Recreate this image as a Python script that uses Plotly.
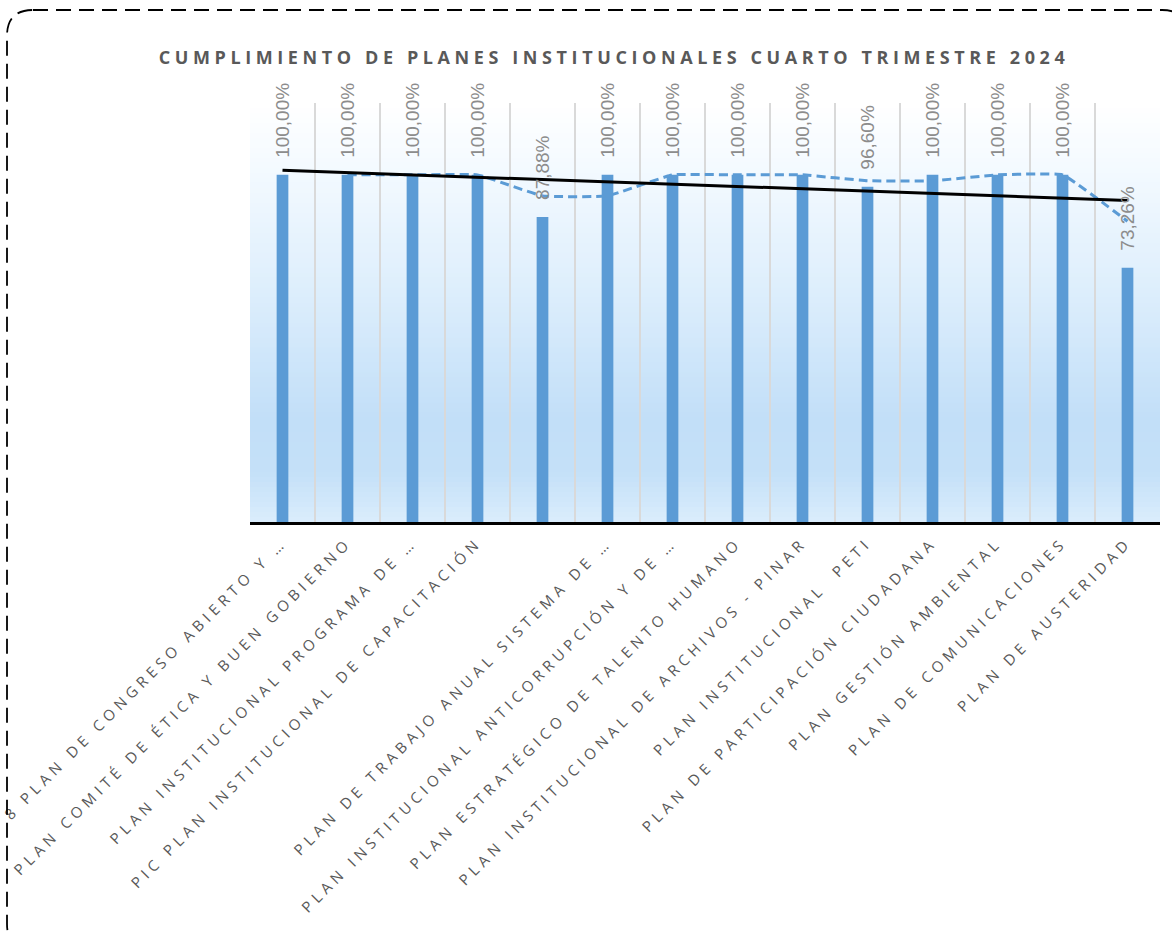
import numpy as np
import plotly.graph_objects as go

# ---------------- data ----------------
categories = [
    "8 PLAN DE CONGRESO ABIERTO Y …",
    "PLAN COMITÉ DE ÉTICA Y BUEN GOBIERNO",
    "PLAN INSTITUCIONAL PROGRAMA DE …",
    "PIC PLAN INSTITUCIONAL DE CAPACITACIÓN",
    "",
    "PLAN DE TRABAJO ANUAL SISTEMA DE …",
    "PLAN INSTITUCIONAL ANTICORRUPCIÓN Y DE …",
    "PLAN ESTRATÉGICO DE TALENTO HUMANO",
    "PLAN INSTITUCIONAL DE ARCHIVOS - PINAR",
    "PLAN INSTITUCIONAL  PETI",
    "PLAN DE PARTICIPACIÓN CIUDADANA",
    "PLAN GESTIÓN AMBIENTAL",
    "PLAN DE COMUNICACIONES",
    "PLAN DE AUSTERIDAD",
]
values = [100.00, 100.00, 100.00, 100.00, 87.88, 100.00, 100.00,
          100.00, 100.00, 96.60, 100.00, 100.00, 100.00, 73.26]
title_text = "CUMPLIMIENTO DE PLANES INSTITUCIONALES CUARTO TRIMESTRE 2024"

# ---------------- derived series ----------------
xs = np.arange(len(values))
vals = np.array(values)
# 2-period moving average (starts at 2nd category)
ma_x = xs[1:]
ma_y = (vals[1:] + vals[:-1]) / 2.0
# linear trendline
slope, intercept = np.polyfit(xs, vals, 1)
tr_x = np.array([xs[0], xs[-1]])
tr_y = slope * tr_x + intercept

# ---------------- layout geometry ----------------
W, H = 1172, 936
ML, MR, MT, MB = 250, 12, 103, 414
PW = W - ML - MR
PH = H - MT - MB

def px2paper(px, py):
    return (px - ML) / PW, (H - MB - py) / PH

BLUE = "#5B9BD5"
GRAY_TXT = "#595959"

fig = go.Figure()

fig.add_trace(go.Bar(
    x=xs, y=vals, width=0.18, marker=dict(color=BLUE, line=dict(width=0)),
    hoverinfo="skip", showlegend=False,
))
fig.add_trace(go.Scatter(
    x=ma_x, y=ma_y, mode="lines",
    line=dict(color=BLUE, width=3, dash="9px,5px", shape="spline", smoothing=0.3),
    hoverinfo="skip", showlegend=False,
))
fig.add_trace(go.Scatter(
    x=tr_x, y=tr_y, mode="lines",
    line=dict(color="black", width=3),
    hoverinfo="skip", showlegend=False,
))

# data labels
for xi, v in zip(xs, vals):
    fig.add_annotation(
        x=xi, y=v, xref="x", yref="y",
        text=f"{v:.2f}%".replace(".", ","),
        textangle=-90, showarrow=False, yanchor="bottom", xanchor="center",
        yshift=15,
        font=dict(family="Liberation Sans, Arial, sans-serif", size=19, color="#8C8C8C"),
    )

# gradient background of plot area
def hex2rgb(h):
    h = h.lstrip("#")
    return [int(h[i:i + 2], 16) for i in (0, 2, 4)]

stops = [(0.0, "#DAEDFC"), (0.12, "#C4E0F8"), (0.25, "#C2DFF8"),
         (0.55, "#DDEEFC"), (0.85, "#F4FAFF"), (1.0, "#FFFFFF")]

def color_at(t):
    for (t0, c0), (t1, c1) in zip(stops[:-1], stops[1:]):
        if t0 <= t <= t1:
            a = (t - t0) / (t1 - t0) if t1 > t0 else 0
            r0, r1 = hex2rgb(c0), hex2rgb(c1)
            rgb = [round(r0[k] + (r1[k] - r0[k]) * a) for k in range(3)]
            return "rgb(%d,%d,%d)" % tuple(rgb)
    return stops[-1][1]

N = 84
shapes = []
for i in range(N):
    y0 = i / N
    y1 = (i + 1) / N
    shapes.append(dict(type="rect", xref="paper", yref="paper", x0=0, x1=1,
                       y0=y0, y1=y1 + 0.002, layer="below",
                       fillcolor=color_at((y0 + y1) / 2), line=dict(width=0)))

# dashed rounded outer border
L, T, R, B, r = 7, 10, 1188, 950, 26
def P(px, py):
    x, y = px2paper(px, py)
    return f"{x:.5f},{y:.5f}"
path = (f"M {P(L + r, T)} L {P(R - r, T)} Q {P(R, T)} {P(R, T + r)} "
        f"L {P(R, B - r)} Q {P(R, B)} {P(R - r, B)} L {P(L + r, B)} "
        f"Q {P(L, B)} {P(L, B - r)} L {P(L, T + r)} Q {P(L, T)} {P(L + r, T)} Z")
shapes.append(dict(type="path", xref="paper", yref="paper", path=path,
                   line=dict(color="black", width=1.8, dash="15px,8px"),
                   fillcolor="rgba(0,0,0,0)", layer="above"))

fig.update_layout(
    width=W, height=H,
    margin=dict(l=ML, r=MR, t=MT, b=MB, autoexpand=False),
    paper_bgcolor="white", plot_bgcolor="rgba(0,0,0,0)",
    shapes=shapes,
    title=dict(text=f"<b>{title_text}</b>", x=614 / W, xref="container", xanchor="center",
               y=1 - 58 / H, yref="container", yanchor="middle",
               font=dict(family="Open Sans, sans-serif", size=18, color=GRAY_TXT)),
    xaxis=dict(
        range=[-0.5, len(values) - 0.5],
        tickmode="array", tickvals=list(xs), ticktext=categories,
        tickangle=-45, showgrid=False, zeroline=False,
        showline=True, linecolor="black", linewidth=3,
        ticks="", ticklabelstandoff=3,
        tickfont=dict(family="Open Sans, sans-serif", size=15, color=GRAY_TXT),
        minor=dict(tick0=-0.5, dtick=1, showgrid=True, gridcolor="#D9D9D9",
                   gridwidth=1.5, ticks=""),
        fixedrange=True,
    ),
    yaxis=dict(range=[0, 120.7], showgrid=False, zeroline=False,
               showticklabels=False, showline=False, fixedrange=True),
    bargap=0.82,
)

post = """
document.body.style.margin = '0';
document.body.style.overflow = 'hidden';
var gd = document.getElementById('{plot_id}');
function sp(){
  gd.querySelectorAll('.xtick text').forEach(function(t){ t.style.letterSpacing='4.7px'; });
  gd.querySelectorAll('.gtitle').forEach(function(t){ t.style.letterSpacing='4.6px'; });
}
sp();
gd.on('plotly_afterplot', sp);
"""

fig.write_html("out.html", post_script=post, config={"displayModeBar": False})
